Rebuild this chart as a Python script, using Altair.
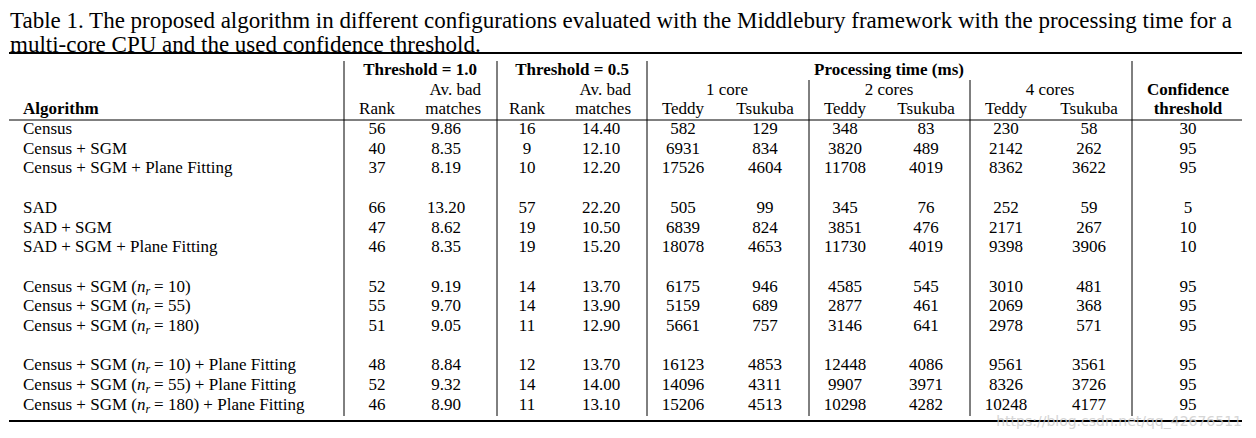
import altair as alt
import pandas as pd

# ---------------- data ----------------
caption_lines = [
    "Table 1. The proposed algorithm in different configurations evaluated with the Middlebury framework with the processing time for a",
    "multi-core CPU and the used confidence threshold.",
]
algorithms = ["Census", "Census + SGM", "Census + SGM + Plane Fitting",
              "SAD", "SAD + SGM", "SAD + SGM + Plane Fitting"]
nr_prefix = "Census + SGM ("
nr_values = [10, 55, 180, 10, 55, 180]
nr_suffix = ["", "", "", " + Plane Fitting", " + Plane Fitting", " + Plane Fitting"]

rank_t10 = [56, 40, 37, 66, 47, 46, 52, 55, 51, 48, 52, 46]
bad_t10 = [9.86, 8.35, 8.19, 13.20, 8.62, 8.35, 9.19, 9.70, 9.05, 8.84, 9.32, 8.90]
rank_t05 = [16, 9, 10, 57, 19, 19, 14, 14, 11, 12, 14, 11]
bad_t05 = [14.40, 12.10, 12.20, 22.20, 10.50, 15.20, 13.70, 13.90, 12.90, 13.70, 14.00, 13.10]
teddy_1 = [582, 6931, 17526, 505, 6839, 18078, 6175, 5159, 5661, 16123, 14096, 15206]
tsukuba_1 = [129, 834, 4604, 99, 824, 4653, 946, 689, 757, 4853, 4311, 4513]
teddy_2 = [348, 3820, 11708, 345, 3851, 11730, 4585, 2877, 3146, 12448, 9907, 10298]
tsukuba_2 = [83, 489, 4019, 76, 476, 4019, 545, 461, 641, 4086, 3971, 4282]
teddy_4 = [230, 2142, 8362, 252, 2171, 9398, 3010, 2069, 2978, 9561, 8326, 10248]
tsukuba_4 = [58, 262, 3622, 59, 267, 3906, 481, 368, 571, 3561, 3726, 4177]
confidence = [30, 95, 95, 5, 10, 10, 95, 95, 95, 95, 95, 95]

group_headers = ["Threshold = 1.0", "Threshold = 0.5", "Processing time (ms)"]
core_headers = ["1 core", "2 cores", "4 cores"]
sub_headers = ["Rank", "matches", "Rank", "matches", "Teddy", "Tsukuba",
               "Teddy", "Tsukuba", "Teddy", "Tsukuba"]
watermark = "https://blog.csdn.net/qq_42676511"

# ---------------- layout ----------------
FONT = "Liberation Serif"
FS = 17
CAP_FS = 23
ROW0, ROWH = 129, 19.7
col_x = [377, 446, 527, 601, 683, 765, 845, 926, 1006, 1089, 1188]
group_x = [420, 572, 889]
core_x = [727, 889, 1050]
LEFT = 23
H1, H2, H3 = 70, 89.5, 109
PREFIX_W = 6.703 * FS          # width of "Census + SGM (" in Times metrics
N_W = 0.5 * FS                 # italic n
SUB_FS = 12
R_W = 0.389 * SUB_FS


def row_y(i):
    vis = i + i // 3
    return ROW0 + ROWH * vis


cells_c, cells_b, cells_r, cells_bl, cells_l, cells_i, cells_s = [], [], [], [], [], [], []

columns = [rank_t10, [f"{v:.2f}" for v in bad_t10], rank_t05,
           [f"{v:.2f}" for v in bad_t05], teddy_1, tsukuba_1, teddy_2,
           tsukuba_2, teddy_4, tsukuba_4, confidence]
for ci, col in enumerate(columns):
    for ri, v in enumerate(col):
        cells_c.append({"x": col_x[ci], "y": row_y(ri), "t": str(v)})

for ri, name in enumerate(algorithms):
    cells_l.append({"x": LEFT, "y": row_y(ri), "t": name})
for k, (v, suf) in enumerate(zip(nr_values, nr_suffix)):
    y = row_y(6 + k)
    xn = LEFT + PREFIX_W
    xr = xn + N_W
    xe = xr + R_W + 4
    cells_l.append({"x": LEFT, "y": y, "t": nr_prefix})
    cells_i.append({"x": xn, "y": y, "t": "n"})
    cells_s.append({"x": xr, "y": y + 4, "t": "r"})
    cells_l.append({"x": xe, "y": y, "t": f"= {v})" + suf})

for gx, g in zip(group_x, group_headers):
    cells_b.append({"x": gx, "y": H1, "t": g})
for cx, c in zip(core_x, core_headers):
    cells_c.append({"x": cx, "y": H2, "t": c})
cells_r.append({"x": 481, "y": H2, "t": "Av. bad"})
cells_r.append({"x": 631, "y": H2, "t": "Av. bad"})
cells_b.append({"x": col_x[10], "y": H2, "t": "Confidence"})
cells_b.append({"x": col_x[10], "y": H3, "t": "threshold"})
cells_bl.append({"x": LEFT, "y": H3, "t": "Algorithm"})
for k, s in enumerate(sub_headers):
    if s == "matches":
        cells_r.append({"x": 481 if k == 1 else 631, "y": H3, "t": s})
    else:
        cells_c.append({"x": col_x[k], "y": H3, "t": s})

caption = [{"x": 10, "y": 20.5, "t": caption_lines[0]},
           {"x": 10, "y": 44.5, "t": caption_lines[1]}]
wm = [{"x": 1242, "y": 421.5, "t": watermark}]

rules = pd.DataFrame([
    {"x": 9, "x2": 1242, "y": 53, "y2": 53, "w": 2},
    {"x": 9, "x2": 1242, "y": 120, "y2": 120, "w": 1},
    {"x": 9, "x2": 1242, "y": 421, "y2": 421, "w": 2},
    {"x": 344, "x2": 344, "y": 61, "y2": 416, "w": 1},
    {"x": 497, "x2": 497, "y": 61, "y2": 416, "w": 1},
    {"x": 647, "x2": 647, "y": 61, "y2": 416, "w": 1},
    {"x": 1132, "x2": 1132, "y": 61, "y2": 416, "w": 1},
    {"x": 809, "x2": 809, "y": 80, "y2": 416, "w": 1},
    {"x": 970, "x2": 970, "y": 80, "y2": 416, "w": 1},
])

xs = alt.Scale(domain=[8, 1248], nice=False, zero=False)
ys = alt.Scale(domain=[8, 430], nice=False, zero=False, reverse=True)
X = alt.X("x:Q", scale=xs, axis=None)
Y = alt.Y("y:Q", scale=ys, axis=None)


def tlayer(rows, align="center", weight="normal", style="normal", size=FS,
           color="#000000", font=FONT, opacity=1.0):
    df = pd.DataFrame(rows)
    return alt.Chart(df).mark_text(
        align=align, baseline="middle", font=font, fontSize=size,
        fontWeight=weight, fontStyle=style, color=color, opacity=opacity
    ).encode(x=X, y=Y, text="t:N")


rule_layer = alt.Chart(rules).mark_rule(color="#000000").encode(
    x=X, x2="x2:Q", y=Y, y2="y2:Q",
    strokeWidth=alt.StrokeWidth("w:Q", scale=None, legend=None))

chart = alt.layer(
    rule_layer,
    tlayer(cells_c),
    tlayer(cells_b, weight="bold"),
    tlayer(cells_r, align="right"),
    tlayer(cells_bl, align="left", weight="bold"),
    tlayer(cells_l, align="left"),
    tlayer(cells_i, align="left", style="italic"),
    tlayer(cells_s, align="left", style="italic", size=SUB_FS),
    tlayer(caption, align="left", size=CAP_FS),
    tlayer(wm, align="right", size=14, font="DejaVu Sans",
           color="#cccccc", opacity=0.8),
).properties(width=1240, height=422, autosize="none", padding=0
).configure_view(stroke=None)

chart.save("out.html", embed_options={"renderer": "svg", "actions": False})
